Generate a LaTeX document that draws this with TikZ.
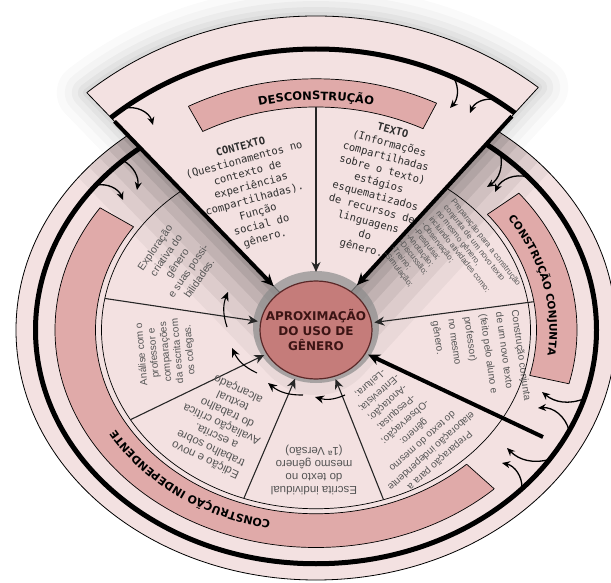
\documentclass[tikz,border=0pt]{standalone}
\usepackage{fontspec}
\setmainfont{Liberation Sans}
\newfontfamily\monof{DejaVu Sans Mono}
\newfontfamily\heavyf{DejaVu Sans Bold}
\usetikzlibrary{calc,arrows.meta,decorations.text,shapes.geometric}
\definecolor{pinkL}{RGB}{243,225,225}
\definecolor{pinkB}{RGB}{224,170,169}
\definecolor{hubC}{RGB}{197,124,122}
\definecolor{hubD}{RGB}{90,40,40}
\definecolor{hubT}{RGB}{60,20,20}
\definecolor{txtG}{RGB}{85,85,85}
\definecolor{txtW}{RGB}{45,45,45}
\newcommand\elpt[4]{\coordinate (#1) at ([shift={(O)}]#4:{#2/sqrt((cos(#4))^2+#3*(sin(#4))^2)});}
\tikzset{
 thickedge/.style={line width=4, -{Stealth[length=12pt,width=11pt]}},
 divider/.style={line width=1.1, black!85, -{Stealth[length=10pt,width=9pt]}},
 ringarr/.style={line width=1.3, -{Stealth[length=8pt,width=7pt]}},
 flowarr/.style={line width=1.1, -{Stealth[length=9pt,width=8pt]}},
 subtxt/.style={text=txtG, inner sep=0, align=center},
 wtxt/.style={text=txtW, inner sep=0, align=center, font=\monof\fontsize{10.5}{13.5}\selectfont},
 bandlabel/.style 2 args={decorate, decoration={text along path, text align=center, text={|\heavyf\fontsize{#2}{#2}\selectfont|#1}}}
}
\begin{document}
\begin{tikzpicture}[x=1pt,y=1pt]
\useasboundingbox (0,0) rectangle (611,582);
\fill[white] (0,0) rectangle (611,582);
\coordinate (O) at (316,252);
\coordinate (WLc) at ([shift={(O)}]134:329.9);
\coordinate (WRc) at ([shift={(O)}]47.5:329);

% soft shadow of the raised wedge on the background
\foreach \w/\o in {60/0.02,44/0.025,30/0.03,18/0.035,8/0.04}
  \draw[line width=\w, opacity=\o, line join=round]
    (WLc) arc[start angle=130.9, end angle=50.6, x radius=350, y radius=314] -- (O) -- cycle;

% base disc (construcao conjunta + independente)
\fill[pinkL] (O) ellipse[x radius=300, y radius=250];
\begin{scope}
  \clip (O) ellipse[x radius=300, y radius=250];
  \foreach \w/\o in {130/0.04,100/0.05,72/0.06,48/0.07,28/0.08,12/0.09}
    \draw[line width=\w, opacity=\o, line join=round] (WLc) -- (O) -- (WRc);
\end{scope}
\draw[line width=.8] (O) ellipse[x radius=300, y radius=250];
\draw[line width=5] (O) ellipse[x radius=280.5, y radius=233.75];
\draw[line width=.7] (O) ellipse[x radius=214.5, y radius=178.75];

% band: construcao independente
\begin{scope}
  \clip (O) -- ([shift={(O)}]150.5:900) -- ([shift={(O)}]210:900) -- ([shift={(O)}]265:900) -- ([shift={(O)}]318.3:900) -- cycle;
  \fill[pinkB, even odd rule] (O) ellipse[x radius=261, y radius=217.5] (O) ellipse[x radius=220.5, y radius=183.75];
  \draw[line width=.7] (O) ellipse[x radius=261, y radius=217.5];
  \draw[line width=.7] (O) ellipse[x radius=220.5, y radius=183.75];
\end{scope}
\elpt{IBa}{261}{1.44}{150.5}\elpt{IBb}{220.5}{1.44}{150.5}
\elpt{IBc}{261}{1.44}{318.3}\elpt{IBd}{220.5}{1.44}{318.3}
\draw[line width=.7] (IBa) -- (IBb) (IBc) -- (IBd);

% band: construcao conjunta
\begin{scope}
  \clip (O) -- ([shift={(O)}]-12:900) -- ([shift={(O)}]11:900) -- ([shift={(O)}]34:900) -- cycle;
  \fill[pinkB, even odd rule] (O) ellipse[x radius=261, y radius=217.5] (O) ellipse[x radius=220.5, y radius=183.75];
  \draw[line width=.7] (O) ellipse[x radius=261, y radius=217.5];
  \draw[line width=.7] (O) ellipse[x radius=220.5, y radius=183.75];
\end{scope}
\elpt{CBa}{261}{1.44}{-12}\elpt{CBb}{220.5}{1.44}{-12}
\elpt{CBc}{261}{1.44}{34}\elpt{CBd}{220.5}{1.44}{34}
\draw[line width=.7] (CBa) -- (CBb) (CBc) -- (CBd);

% raised wedge: desconstrucao
\begin{scope}
  \clip (O) -- ([shift={(O)}]47.5:900) -- ([shift={(O)}]90:900) -- ([shift={(O)}]134:900) -- cycle;
  \fill[pinkL] (O) ellipse[x radius=350, y radius=314];
  \draw[line width=.8] (O) ellipse[x radius=350, y radius=314];
  \draw[line width=5] (O) ellipse[x radius=313, y radius=281];
\end{scope}
\begin{scope}
  \clip (O) -- ([shift={(O)}]62:900) -- ([shift={(O)}]90:900) -- ([shift={(O)}]119.7:900) -- cycle;
  \fill[pinkB, even odd rule] (O) ellipse[x radius=280, y radius=251.2] (O) ellipse[x radius=248.5, y radius=223];
  \draw[line width=.7] (O) ellipse[x radius=280, y radius=251.2];
  \draw[line width=.7] (O) ellipse[x radius=248.5, y radius=223];
\end{scope}
\elpt{DBa}{280}{1.2423}{62}\elpt{DBb}{248.5}{1.2423}{62}
\elpt{DBc}{280}{1.2423}{119.7}\elpt{DBd}{248.5}{1.2423}{119.7}
\draw[line width=.7] (DBa) -- (DBb) (DBc) -- (DBd);
\draw[line width=.8] (O) -- (WLc) (O) -- (WRc);

% hub
\fill[black!45, opacity=.7] ([yshift=3]O) ellipse[x radius=63, y radius=56];
\node[ellipse, minimum width=112, minimum height=98, inner sep=0, outer sep=3, fill=hubC, draw=hubD, line width=1.2] (hub) at (O) {};
\node[font=\heavyf\fontsize{12}{15}\selectfont, text=hubT, align=center, inner sep=0] (hubtext) at (O) {APROXIMAÇÃO\\DO USO DE\\GÊNERO};

% edges and dividers pointing at the hub
\coordinate (WLs) at ([shift={(O)}]134:290);
\coordinate (WRs) at ([shift={(O)}]47.5:290);
\coordinate (WM) at ([shift={(O)}]90:223);
\coordinate (CI) at (543,145);
\elpt{D1}{214.5}{1.44}{171.5}
\elpt{D2}{214.5}{1.44}{205.8}
\elpt{D3}{214.5}{1.44}{246.8}
\elpt{D4}{214.5}{1.44}{291.7}
\elpt{CD}{220.5}{1.44}{7.4}
\draw[thickedge, shorten >=6] (WLs) -- (hub);
\draw[thickedge, shorten >=6] (WRs) -- (hub);
\draw[divider, shorten >=6] (WM) -- (hub);
\draw[thickedge] (CI) -- (hub);
\draw[divider] (CD) -- (hub);
\draw[divider] (D1) -- (hub);
\draw[divider] (D2) -- (hub);
\draw[divider] (D3) -- (hub);
\draw[divider] (D4) -- (hub);

% flow arrows round the hub
\coordinate (f1a) at (345,187); \coordinate (f1b) at (315,185);
\coordinate (f2a) at (303,187); \coordinate (f2b) at (268,199);
\coordinate (f3a) at (257,209); \coordinate (f3b) at (232,234);
\coordinate (f4a) at (227,255); \coordinate (f4b) at (228,290);
\draw[flowarr] (f1a) to[bend left=20] (f1b);
\draw[flowarr] (f2a) to[bend left=20] (f2b);
\draw[flowarr] (f3a) to[bend left=20] (f3b);
\draw[flowarr] (f4a) to[bend left=20] (f4b);

% curved arrows leaving the thick rings
\elpt{rWL}{313}{1.2423}{131}   \coordinate (tWL) at (153,457);
\elpt{rWRa}{313}{1.2423}{61.3} \coordinate (tWRa) at (450,474);
\elpt{rWRb}{313}{1.2423}{52.1} \coordinate (tWRb) at (470,469);
\elpt{rCTa}{280.5}{1.44}{43.7} \coordinate (tCTa) at (487,395);
\elpt{rCTb}{280.5}{1.44}{35.8} \coordinate (tCTb) at (495,390);
\elpt{rITa}{280.5}{1.44}{138.7} \coordinate (tITa) at (137,392);
\elpt{rITb}{280.5}{1.44}{146.7} \coordinate (tITb) at (123,382);
\elpt{rCBa}{280.5}{1.44}{-14.4} \coordinate (tCBa) at (542,190);
\elpt{rCBb}{280.5}{1.44}{-21.7} \coordinate (tCBb) at (538,174);
\elpt{rIBa}{280.5}{1.44}{-29} \coordinate (tIBa) at (507,134);
\elpt{rIBb}{280.5}{1.44}{-37.6} \coordinate (tIBb) at (502,119);
\draw[ringarr] (rWL) to[bend left=45] (tWL);
\draw[ringarr] (rWRa) to[bend left=35] (tWRa);
\draw[ringarr] (rWRb) to[bend right=40] (tWRb);
\draw[ringarr] (rCTa) to[bend left=35] (tCTa);
\draw[ringarr] (rCTb) to[bend right=40] (tCTb);
\draw[ringarr] (rITa) to[bend left=35] (tITa);
\draw[ringarr] (rITb) to[bend left=40] (tITb);
\draw[ringarr] (rCBa) to[bend left=30] (tCBa);
\draw[ringarr] (rCBb) to[bend right=40] (tCBb);
\draw[ringarr] (rIBa) to[bend left=30] (tIBa);
\draw[ringarr] (rIBb) to[bend right=40] (tIBb);

% band labels
\path[bandlabel={DESCONSTRUÇÃO}{11.5}] ($(O)+({256*cos(112)},{230*sin(112)})$) arc[start angle=112, end angle=68, x radius=256, y radius=230];
\path[bandlabel={CONSTRUÇÃO CONJUNTA}{10.5}] ($(O)+({233.5*cos(50)},{194.6*sin(50)})$) arc[start angle=50, end angle=-24, x radius=233.5, y radius=194.6];
\path[bandlabel={CONSTRUÇÃO INDEPENDENTE}{11}] ($(O)+({233.5*cos(280)},{194.6*sin(280)})$) arc[start angle=280, end angle=186, x radius=233.5, y radius=194.6];

% texts
\node[wtxt, rotate=15] (ctx) at (253,389) {\textbf{CONTEXTO}\\(Questionamentos no\\contexto de\\experiências\\compartilhadas).\\Função\\social do\\gênero.};
\node[wtxt, rotate=-15] (txt) at (377,392) {\textbf{TEXTO}\\(Informações\\compartilhadas\\sobre o texto)\\estágios\\esquematizados\\de recursos de\\linguagens\\do\\gênero.};
\node[subtxt, rotate=55, font=\fontsize{10.5}{13.5}\selectfont] (expl) at (177,319) {Exploração\\criativa do\\gênero\\e suas possi-\\bilidades.};
\node[subtxt, rotate=95, font=\fontsize{10}{12}\selectfont] (anal) at (166,230) {Análise com o\\professor e\\comparações\\da escrita com\\os colegas.};
\node[subtxt, rotate=155, font=\fontsize{11.5}{13}\selectfont] (edic) at (222,158) {Edição e novo\\trabalho sobre\\a escrita.\\Avaliação crítica\\do trabalho\\textual\\alcançado};
\node[subtxt, rotate=180, font=\fontsize{11.5}{13}\selectfont] (escr) at (314,112) {Escrita individual\\do texto no\\mesmo gênero\\(1ª Versão)};
\node[subtxt, rotate=222, font=\fontsize{10}{13}\selectfont] (prepI) at (405,160) {Preparação para a\\elaboração independente\\do texto do mesmo\\gênero:\\-Observação;\\-Pesquisa;\\-Anotação;\\-Entrevista;\\-Leitura;};
\node[subtxt, rotate=-52, align=left, font=\fontsize{8}{9.5}\selectfont] (prepC) at (452,313) {Preparação para a construção\\conjunta de um novo texto\\no mesmo gênero,\\incluindo atividades como:\\-Observação;\\-Pesquisa;\\-Anotação;\\-Discussão;\\-Treino;\\-Simulação;};
\node[subtxt, rotate=-82, align=left, font=\fontsize{10}{16}\selectfont] (conj) at (481,221) {Construção conjunta\\de um novo texto\\(feito pelo aluno e\\professor)\\no mesmo\\gênero.};
\end{tikzpicture}
\end{document}
